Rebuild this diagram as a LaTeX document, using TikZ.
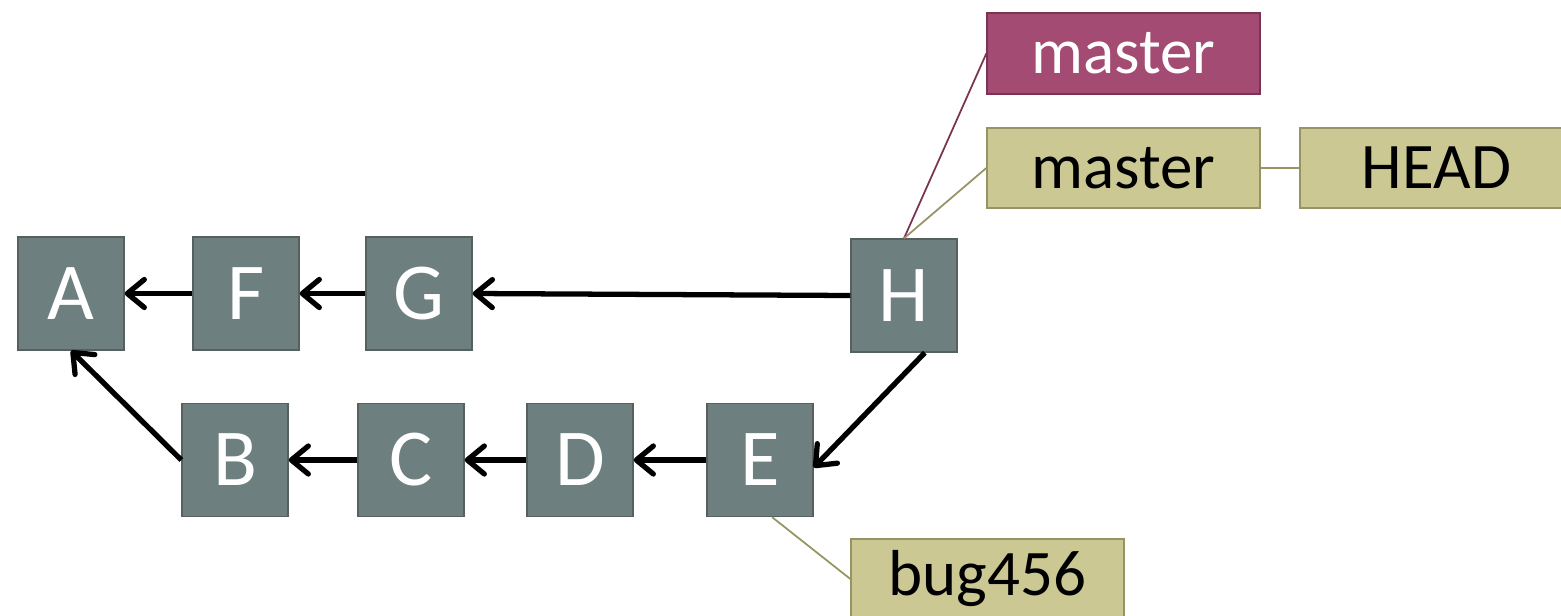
\documentclass[tikz,border=0pt]{standalone}
\usepackage{fontspec}
\setmainfont{Carlito}
\usetikzlibrary{arrows.meta}
\definecolor{commitgray}{HTML}{6E7F80}
\definecolor{commitedge}{HTML}{55605F}
\definecolor{branchred}{HTML}{A34B72}
\definecolor{branchrededge}{HTML}{7B3352}
\definecolor{refolive}{HTML}{CCC894}
\definecolor{refoliveedge}{HTML}{969464}

\begin{document}
\begin{tikzpicture}[x=0.02cm,y=-0.02cm,
    commit/.style={draw=commitedge,line width=0.8pt,fill=commitgray,text=white,
      minimum width=2.12cm,minimum height=2.26cm,inner sep=0pt,
      font=\fontsize{46}{50}\selectfont},
    branch/.style={draw=branchrededge,line width=0.8pt,fill=branchred,text=white,
      minimum width=5.46cm,minimum height=1.62cm,inner sep=0pt,
      font=\fontsize{37}{40}\selectfont},
    ref/.style={draw=refoliveedge,line width=0.8pt,fill=refolive,text=black,
      minimum width=5.46cm,minimum height=1.6cm,inner sep=0pt,
      font=\fontsize{37}{40}\selectfont},
    parent/.style={line width=3pt,-{Straight Barb[length=3.4mm,width=5.6mm,round]}}]
                      \useasboundingbox (0,0) rectangle (1561,615);
                      \node[commit](A)at(71,293.5){A};
                      \node[commit](F)at(246,293.5){F};
                      \node[commit](G)at(419,293.5){G};
                      \node[commit](H)at(904,295.5){H};
                      \node[commit](B)at(235,460){B};
                      \node[commit](C)at(411,460){C};
                      \node[commit](D)at(580,460){D};
                      \node[commit](E)at(760,460){E};
                      \node[branch](master)at(1123.5,53.5){master};
                      \node[ref](local)at(1123.5,168){master};
                      \node[ref](head)at(1436.5,168){HEAD};
                      \node[ref](bug)at(987.5,579){bug456};
                      \draw[draw=branchrededge,line width=1pt] (H.north) -- (master.west);
                      \draw[draw=refoliveedge,line width=1pt] (H.north) -- (local.west);
                      \draw[draw=refoliveedge,line width=1pt] (local.east) -- (head.west);
                      \draw[draw=refoliveedge,line width=1pt] (E.-78) -- (bug.west);
                      \draw[parent] (H.west) -- (G.east);
                      \draw[parent] (G) -- (F);
                      \draw[parent] (F) -- (A);
                      \draw[parent] (B.west) -- (A.south);
                      \draw[parent] (E) -- (D);
                      \draw[parent] (D) -- (C);
                      \draw[parent] (C) -- (B);
                      \draw[parent] (H.290) -- (E.-8);
                  \end{tikzpicture}
\end{document}
